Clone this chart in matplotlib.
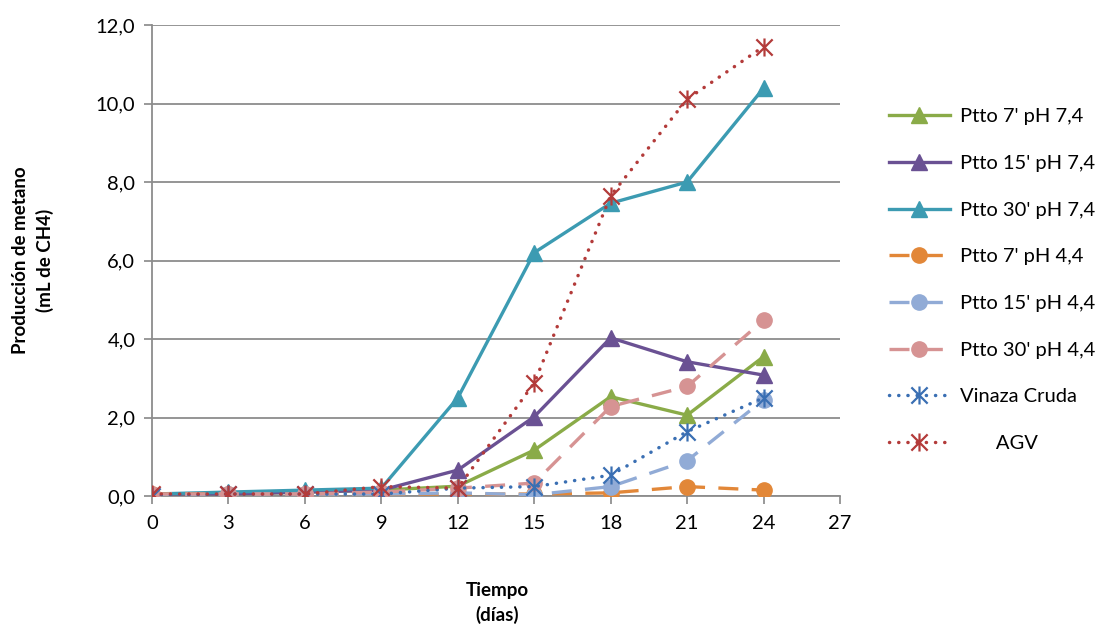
import numpy as np
import matplotlib
matplotlib.use("Agg")
import matplotlib.pyplot as plt
from matplotlib.path import Path

plt.rcParams['font.family'] = ['Lato', 'DejaVu Sans']

dias = [0, 3, 6, 9, 12, 15, 18, 21, 24]

ptto7_74 = [0.05, 0.05, 0.10, 0.15, 0.25, 1.17, 2.53, 2.06, 3.55]
ptto15_74 = [0.05, 0.05, 0.10, 0.15, 0.66, 2.02, 4.03, 3.42, 3.08]
ptto30_74 = [0.05, 0.10, 0.15, 0.20, 2.50, 6.20, 7.46, 8.00, 10.39]
ptto7_44 = [0.05, 0.05, 0.05, 0.05, 0.05, 0.05, 0.08, 0.24, 0.15]
ptto15_44 = [0.00, 0.05, 0.05, 0.05, 0.08, 0.03, 0.24, 0.90, 2.45]
ptto30_44 = [0.05, 0.05, 0.05, 0.10, 0.20, 0.33, 2.28, 2.79, 4.48]
vinaza = [0.00, 0.05, 0.05, 0.05, 0.20, 0.24, 0.53, 1.64, 2.50]
agv = [0.05, 0.05, 0.05, 0.24, 0.20, 2.88, 7.65, 10.11, 11.45]

etiquetas = ["Ptto 7' pH 7,4", "Ptto 15' pH 7,4", "Ptto 30' pH 7,4",
             "Ptto 7' pH 4,4", "Ptto 15' pH 4,4", "Ptto 30' pH 4,4",
             "Vinaza Cruda", "       AGV"]

# asterisk marker like excel
ast = Path([(0, -1), (0, 1), (-0.9, -0.9), (0.9, 0.9), (-0.9, 0.9), (0.9, -0.9)],
           [Path.MOVETO, Path.LINETO] * 3)

fig = plt.figure(figsize=(11.14, 6.28), dpi=100)
ax = fig.add_axes([152 / 1114, 1 - 496 / 628, (840 - 152) / 1114, (496 - 25) / 628])

dash = (0, (6, 4))
dots = (0, (0.05, 2.6))
ax.plot(dias, ptto7_74, color='#8aab48', lw=2.4, marker='^', ms=11, label=etiquetas[0], zorder=3)
ax.plot(dias, ptto15_74, color='#6a5193', lw=2.4, marker='^', ms=11, label=etiquetas[1], zorder=3)
ax.plot(dias, ptto30_74, color='#3c9bb2', lw=2.4, marker='^', ms=11, label=etiquetas[2], zorder=3)
ax.plot(dias, ptto7_44, color='#e28738', lw=2.4, ls=dash, marker='o', ms=11, label=etiquetas[3], zorder=3)
ax.plot(dias, ptto15_44, color='#91abd6', lw=2.4, ls=dash, marker='o', ms=11, label=etiquetas[4], zorder=3)
ax.plot(dias, ptto30_44, color='#d69393', lw=2.4, ls=dash, marker='o', ms=11, label=etiquetas[5], zorder=3)
ax.plot(dias, vinaza, color='#3a6fb3', lw=2.5, ls=dots, dash_capstyle='round',
        marker=ast, ms=13, mew=1.6, mfc='none', label=etiquetas[6], zorder=3)
ax.plot(dias, agv, color='#b33b3a', lw=2.5, ls=dots, dash_capstyle='round',
        marker=ast, ms=13, mew=1.6, mfc='none', label=etiquetas[7], zorder=3)

ax.set_xlim(0, 27)
ax.set_ylim(0, 12)
ax.set_xticks(range(0, 28, 3))
ax.set_yticks(np.arange(0, 12.1, 2))
ax.set_yticklabels([f"{v:.1f}".replace('.', ',') for v in np.arange(0, 12.1, 2)])
ax.tick_params(labelsize=14.5, length=6, color='#888888', width=1.2)
ax.tick_params(axis='x', pad=8)
ax.tick_params(axis='y', pad=6)
ax.grid(axis='y', color='#8c8c8c', lw=1.3)
ax.set_axisbelow(True)
for s in ['top', 'right']:
    ax.spines[s].set_visible(False)
for s in ['left', 'bottom']:
    ax.spines[s].set_color('#8c8c8c')
    ax.spines[s].set_linewidth(1.3)

fig.text(33 / 1114, 1 - 260 / 628, "Producción de metano\n(mL de CH4)", rotation=90,
         ha='center', va='center', fontsize=13.5, fontweight='bold', linespacing=1.45)
fig.text(497 / 1114, 1 - 603 / 628, "Tiempo\n(días)", ha='center', va='center',
         fontsize=13.5, fontweight='bold', linespacing=1.45)

fig.legend(loc='upper left', bbox_to_anchor=(871 / 1114, 1 - 90 / 628), frameon=False,
           fontsize=14.5, handlelength=3.0, labelspacing=1.47, handletextpad=0.5)

fig.savefig("out.png", dpi=100)
